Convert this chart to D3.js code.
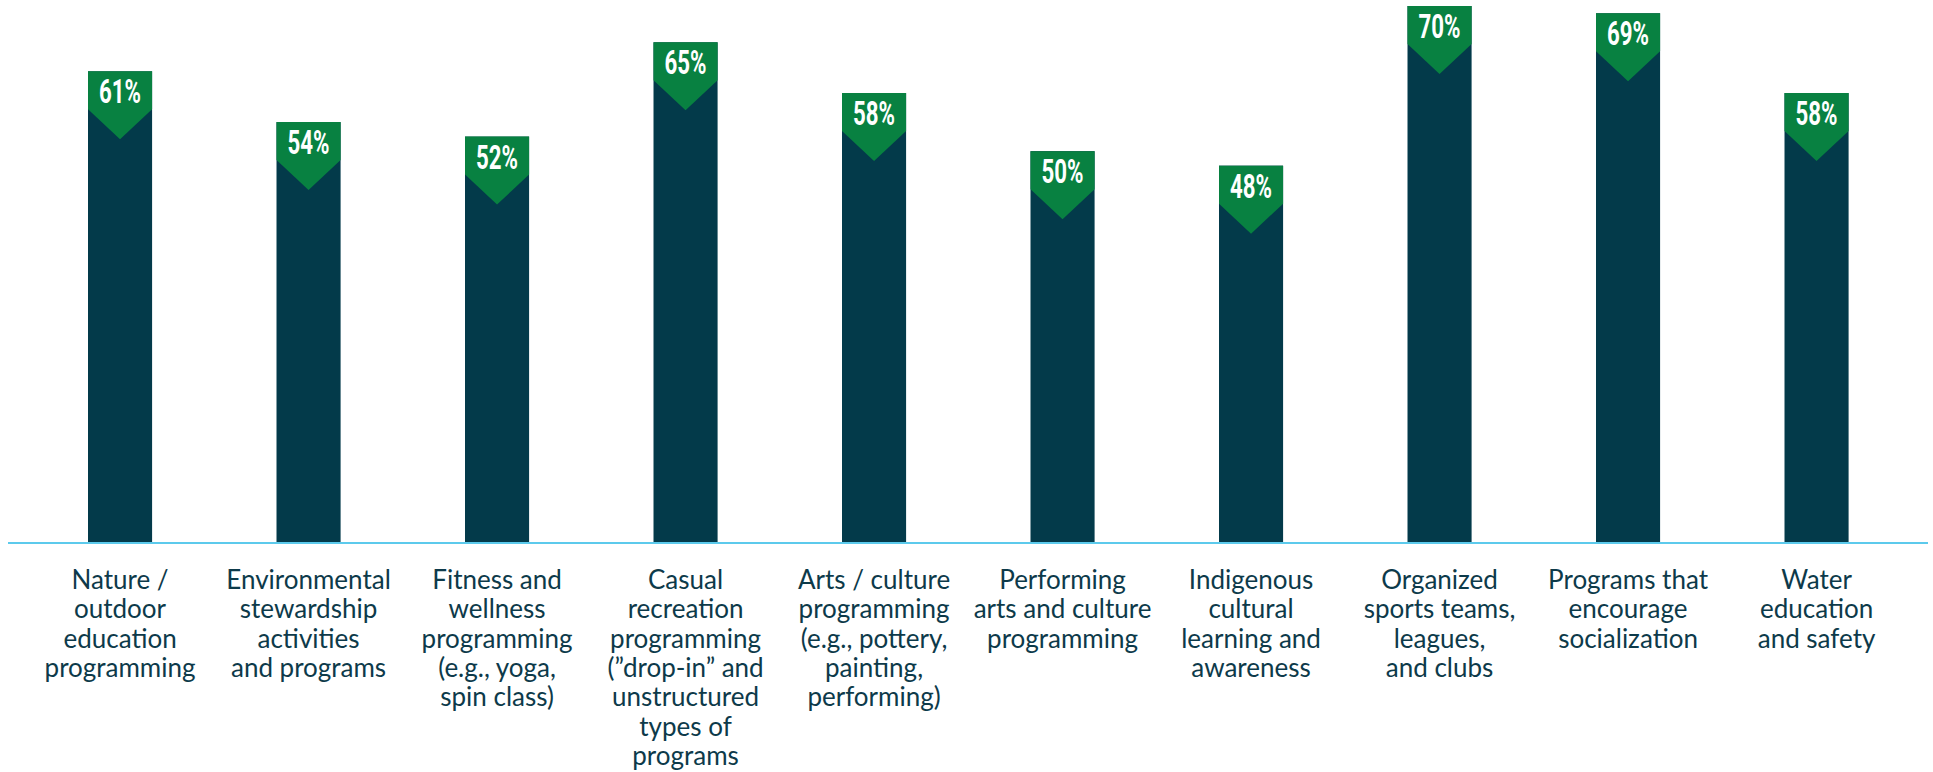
<!DOCTYPE html>
<html>
<head>
<meta charset="utf-8">
<script src="https://cdn.jsdelivr.net/npm/d3@7"></script>
<style>
  html, body { margin: 0; padding: 0; background: #ffffff; }
  svg { display: block; }
</style>
</head>
<body>
<svg id="chart" width="1933" height="772"></svg>
<script>
const categories = [
  "Nature / outdoor education programming",
  "Environmental stewardship activities and programs",
  "Fitness and wellness programming (e.g., yoga, spin class)",
  "Casual recreation programming (\u201ddrop-in\u201d and unstructured types of programs",
  "Arts / culture programming (e.g., pottery, painting, performing)",
  "Performing arts and culture programming",
  "Indigenous cultural learning and awareness",
  "Organized sports teams, leagues, and clubs",
  "Programs that encourage socialization",
  "Water education and safety"
];
const labelLines = [
  ["Nature /", "outdoor", "education", "programming"],
  ["Environmental", "stewardship", "activities", "and programs"],
  ["Fitness and", "wellness", "programming", "(e.g., yoga,", "spin class)"],
  ["Casual", "recreation", "programming", "(\u201ddrop-in\u201d and", "unstructured", "types of", "programs"],
  ["Arts / culture", "programming", "(e.g., pottery,", "painting,", "performing)"],
  ["Performing", "arts and culture", "programming"],
  ["Indigenous", "cultural", "learning and", "awareness"],
  ["Organized", "sports teams,", "leagues,", "and clubs"],
  ["Programs that", "encourage", "socialization"],
  ["Water", "education", "and safety"]
];
const values = [61, 54, 52, 65, 58, 50, 48, 70, 69, 58];

const barColor = "#033a4a";
const boxColor = "#088141";
const textColor = "#0d3a4a";
const axisColor = "#5ccaec";

const svg = d3.select("#chart");

const x = d3.scaleBand()
  .domain(categories)
  .range([25.8, 1910.8])
  .paddingInner(0.66)
  .paddingOuter(0.33);

const y = d3.scaleLinear()
  .domain([-4, 70])
  .range([543, 6]);

const baseY = y(-4);
const boxH = 38, triH = 30;

const data = categories.map((c, i) => ({ c, v: values[i], lines: labelLines[i] }));

// bars
svg.append("g").selectAll("rect")
  .data(data)
  .join("rect")
  .attr("x", d => x(d.c))
  .attr("y", d => y(d.v))
  .attr("width", x.bandwidth())
  .attr("height", d => baseY - y(d.v))
  .attr("fill", barColor);

// green label boxes with arrow
const lab = svg.append("g").selectAll("g")
  .data(data)
  .join("g");

lab.append("path")
  .attr("d", d => {
    const x0 = x(d.c), w = x.bandwidth(), t = y(d.v);
    return `M${x0},${t}H${x0 + w}V${t + boxH}L${x0 + w / 2},${t + boxH + triH}L${x0},${t + boxH}Z`;
  })
  .attr("fill", boxColor);

lab.append("text")
  .attr("x", d => x(d.c) + x.bandwidth() / 2)
  .attr("y", d => y(d.v) + 32)
  .attr("text-anchor", "middle")
  .attr("font-family", "Roboto, 'DejaVu Sans Condensed', sans-serif")
  .attr("font-weight", "700")
  .attr("font-size", 33)
  .attr("fill", "#ffffff")
  .attr("textLength", 42)
  .attr("lengthAdjust", "spacingAndGlyphs")
  .text(d => d.v + "%");

// baseline
svg.append("line")
  .attr("x1", 8)
  .attr("x2", 1928)
  .attr("y1", baseY)
  .attr("y2", baseY)
  .attr("stroke", axisColor)
  .attr("stroke-width", 2);

// category labels
const cat = svg.append("g").selectAll("text")
  .data(data)
  .join("text")
  .attr("x", d => x(d.c) + x.bandwidth() / 2)
  .attr("y", 589)
  .attr("text-anchor", "middle")
  .attr("font-family", "Lato, 'Open Sans', sans-serif")
  .attr("font-size", 26)
  .attr("fill", textColor);

cat.selectAll("tspan")
  .data(d => d.lines.map(l => ({ l, cx: x(d.c) + x.bandwidth() / 2 })))
  .join("tspan")
  .attr("x", d => d.cx)
  .attr("dy", (d, i) => i === 0 ? 0 : 29.3)
  .text(d => d.l);
</script>
</body>
</html>
